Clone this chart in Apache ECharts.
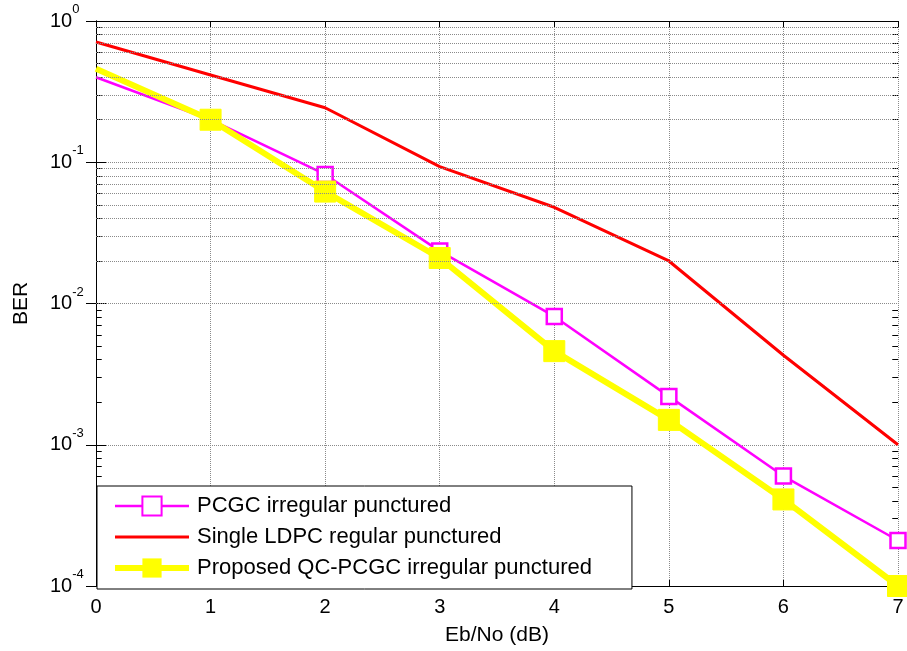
<!DOCTYPE html>
<html>
<head>
<meta charset="utf-8">
<title>BER vs Eb/No</title>
<script src="https://cdn.jsdelivr.net/npm/echarts@6/dist/echarts.min.js"></script>
<style>
html, body { margin: 0; padding: 0; background: #fff; }
#chart { width: 907px; height: 651px; }
</style>
</head>
<body>
<div id="chart"></div>
<script>
// Eb/No (dB) points
const ebno = [0, 1, 2, 3, 4, 5, 6, 7]

// BER curves
const pcgcIrregular = [0.40, 0.20, 0.082, 0.0235, 0.0081, 0.0022, 0.00060, 0.00021]
const singleLdpc = [0.71, 0.415, 0.243, 0.093, 0.048, 0.020, 0.0043, 0.0010]
const proposedQc = [0.46, 0.20, 0.062, 0.021, 0.0046, 0.0015, 0.00041, 0.00010]

const seriesNames = ['PCGC irregular punctured', 'Single LDPC regular punctured', 'Proposed QC-PCGC irregular punctured']

// log grid: decades and the 2..9 lines inside each
const decades = [1e-4, 1e-3, 1e-2, 1e-1]
const minorSteps = [2, 3, 4, 5, 6, 7, 8, 9]
const minorValues = decades.flatMap(d => minorSteps.map(m => +(m * d).toPrecision(3)))

const font = 'Arial, "Liberation Sans", sans-serif'
const chart = echarts.init(document.getElementById('chart'))

// the curves start at the left edge with no marker there
const pairs = ys => ebno.map((x, i) => (i === 0 ? { value: [x, ys[i]], symbol: 'none' } : [x, ys[i]]))

// dotted minor grid + short ticks on the left/right edges
const minorGrid = minorValues.map(v => ({ yAxis: v }))
const edgeTicks = minorValues.flatMap(v => [
	[{ coord: [0, v] }, { coord: [0.05, v] }],
	[{ coord: [6.95, v] }, { coord: [7, v] }]
])

const option = {
	animation: false,
	backgroundColor: '#fff',
	textStyle: { fontFamily: font },
	grid: { left: 96, right: 9, top: 21, bottom: 63 },
	legend: {
		orient: 'vertical',
		left: 97,
		top: 486,
		data: [
			{ name: seriesNames[0], lineStyle: { width: 2.5 } },
			{ name: seriesNames[1], itemStyle: { opacity: 0 }, lineStyle: { width: 3 } },
			{ name: seriesNames[2], lineStyle: { width: 6 } }
		],
		itemWidth: 74,
		itemHeight: 24,
		itemGap: 9,
		padding: [9, 40, 10, 15],
		backgroundColor: '#fff',
		borderColor: '#000',
		borderWidth: 1,
		borderRadius: 0,
		textStyle: { fontSize: 22, color: '#000', fontFamily: font, padding: [0, 0, 0, 3] },
		z: 10
	},
	xAxis: [
		{
			type: 'value',
			min: 0,
			max: 7,
			interval: 1,
			name: 'Eb/No (dB)',
			nameLocation: 'middle',
			nameGap: 39,
			nameTextStyle: { fontSize: 21, color: '#000' },
			axisLine: { lineStyle: { color: '#000', width: 1 } },
			axisTick: { inside: true, length: 6, lineStyle: { color: '#000' } },
			axisLabel: { fontSize: 20, color: '#000', margin: 11 },
			splitLine: { show: true, lineStyle: { color: '#8a8a8a', type: 'dotted', width: 1 } }
		},
		{
			type: 'value',
			position: 'top',
			min: 0,
			max: 7,
			interval: 1,
			axisLine: { lineStyle: { color: '#000', width: 1 } },
			axisTick: { inside: true, length: 6, lineStyle: { color: '#000' } },
			axisLabel: { show: false },
			splitLine: { show: false }
		}
	],
	yAxis: [
		{
			type: 'log',
			logBase: 10,
			min: 1e-4,
			max: 1,
			name: 'BER',
			nameLocation: 'middle',
			nameRotate: 90,
			nameGap: 64,
			nameTextStyle: { fontSize: 21, color: '#000' },
			axisLine: { lineStyle: { color: '#000', width: 1 } },
			axisTick: { inside: true, length: 10, lineStyle: { color: '#000' } },
			axisLabel: {
				align: 'left',
				margin: 46,
				color: '#000',
				formatter: v => `{b|10}{s|${Math.round(Math.log10(v))}}`,
				rich: {
					b: { fontSize: 20, padding: [8, 0, 8, 0], color: '#000' },
					s: { fontSize: 13, verticalAlign: 'top', color: '#000' }
				}
			},
			splitLine: { show: true, lineStyle: { color: '#8a8a8a', type: 'dotted', width: 1 } }
		},
		{
			type: 'log',
			logBase: 10,
			min: 1e-4,
			max: 1,
			position: 'right',
			axisLine: { lineStyle: { color: '#000', width: 1 } },
			axisTick: { inside: true, length: 10, lineStyle: { color: '#000' } },
			axisLabel: { show: false },
			splitLine: { show: false }
		}
	],
	series: [
		{
			name: seriesNames[0],
			type: 'line',
			data: pairs(pcgcIrregular),
			symbol: 'rect',
			symbolSize: 15,
			showAllSymbol: true,
			clip: false,
			lineStyle: { color: '#ff00ff', width: 2.5 },
			itemStyle: { color: '#fff', borderColor: '#ff00ff', borderWidth: 2.5 },
			z: 3
		},
		{
			name: seriesNames[1],
			type: 'line',
			data: singleLdpc.map((y, i) => [ebno[i], y]),
			symbol: 'none',
			lineStyle: { color: '#ff0000', width: 3 },
			itemStyle: { color: '#ff0000' },
			z: 2,
			markLine: {
				silent: true,
				symbol: 'none',
				label: { show: false },
				animation: false,
				lineStyle: { color: '#8a8a8a', type: 'dotted', width: 1 },
				data: minorGrid
			}
		},
		{
			name: seriesNames[2],
			type: 'line',
			data: pairs(proposedQc),
			symbol: 'rect',
			symbolSize: 21,
			showAllSymbol: true,
			clip: false,
			lineStyle: { color: '#ffff00', width: 6 },
			itemStyle: { color: '#ffff00', borderColor: '#ffff00' },
			z: 4,
			markLine: {
				silent: true,
				symbol: 'none',
				label: { show: false },
				animation: false,
				lineStyle: { color: '#000', type: 'solid', width: 1 },
				data: edgeTicks,
				z: 1
			}
		}
	]
}

chart.setOption(option)
</script>
</body>
</html>
